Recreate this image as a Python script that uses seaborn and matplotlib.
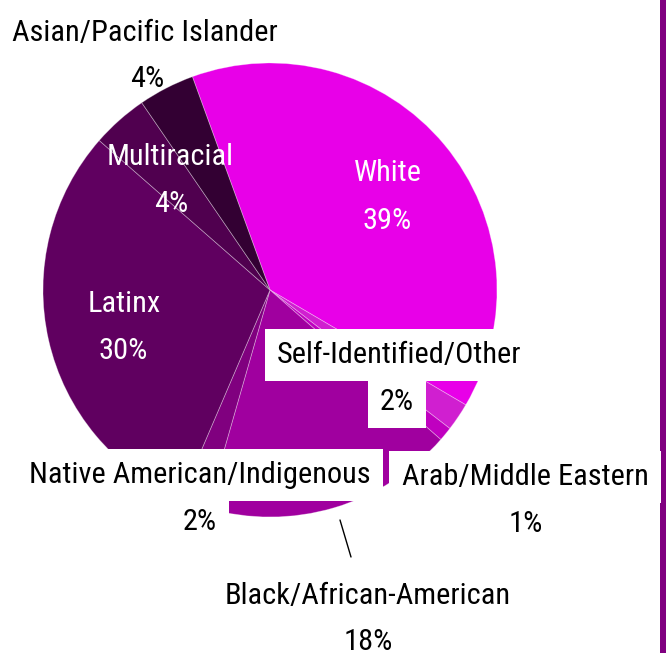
import matplotlib.pyplot as plt
import seaborn as sns
from matplotlib.patches import Rectangle

# Pie data, clockwise from the top
categories = ['White', 'Self-Identified/Other', 'Arab/Middle Eastern',
              'Black/African-American', 'Native American/Indigenous',
              'Latinx', 'Multiracial', 'Asian/Pacific Islander']
shares = [39, 2, 1, 18, 2, 30, 4, 4]
colors = ['#e800e8', '#d01fd0', '#c000c0', '#a0009f',
          '#80007f', '#600060', '#50004f', '#330033']

W, H = 666, 653

# label layout (pixel coords from top-left): name x, name baseline, pct x, pct baseline, colour, white box
label_layout = {
    'White': (388, 181, 387, 229, 'white', False),
    'Self-Identified/Other': (399, 363, 397, 410, 'black', True),
    'Arab/Middle Eastern': (525, 485, 526, 532, 'black', True),
    'Black/African-American': (368, 604, 368, 650, 'black', False),
    'Native American/Indigenous': (200, 483, 200, 530, 'black', True),
    'Latinx': (124, 312, 123, 359, 'white', False),
    'Multiracial': (170, 165, 171, 212, 'white', False),
    'Asian/Pacific Islander': (145, 41, 147, 87, 'black', False),
}

sns.set_theme(style='white')
plt.rcParams['font.family'] = ['Roboto Condensed', 'DejaVu Sans']

fig = plt.figure(figsize=(W / 100, H / 100), dpi=100)
ax = fig.add_axes([0, 0, 1, 1])

ax.pie(shares, colors=colors, startangle=110, counterclock=False,
       center=(270, H - 290), radius=227,
       wedgeprops=dict(edgecolor=(1, 1, 1, 0.35), linewidth=0.6))
ax.set_xlim(0, W)
ax.set_ylim(0, H)
ax.set_aspect('equal')
ax.axis('off')

# fit the font size so "Asian/Pacific Islander" is about as wide as in the reference
probe = fig.text(0, 0, 'Asian/Pacific Islander', fontsize=24, fontweight='normal')
renderer = fig.canvas.get_renderer()
fsize = 24 * 266 / probe.get_window_extent(renderer).width
probe.remove()

box = dict(boxstyle='square,pad=0.4', facecolor='white', edgecolor='none')
for cat, share in zip(categories, shares):
    nx, ny, px, py, col, boxed = label_layout[cat]
    kw = dict(ha='center', va='baseline', fontsize=fsize, fontweight='normal',
              color=col, zorder=5)
    if boxed:
        kw['bbox'] = box
    ax.text(nx, H - ny, cat, **kw)
    ax.text(px, H - py, f'{share}%', **kw)

# leader line for the Black/African-American label
ax.plot([340, 351], [H - 520, H - 557], color='black', lw=1)

# purple bar on the right edge
ax.add_patch(Rectangle((660, 0), 6, H, facecolor='#800080', edgecolor='none', clip_on=False))

fig.savefig('out.png', dpi=100)
